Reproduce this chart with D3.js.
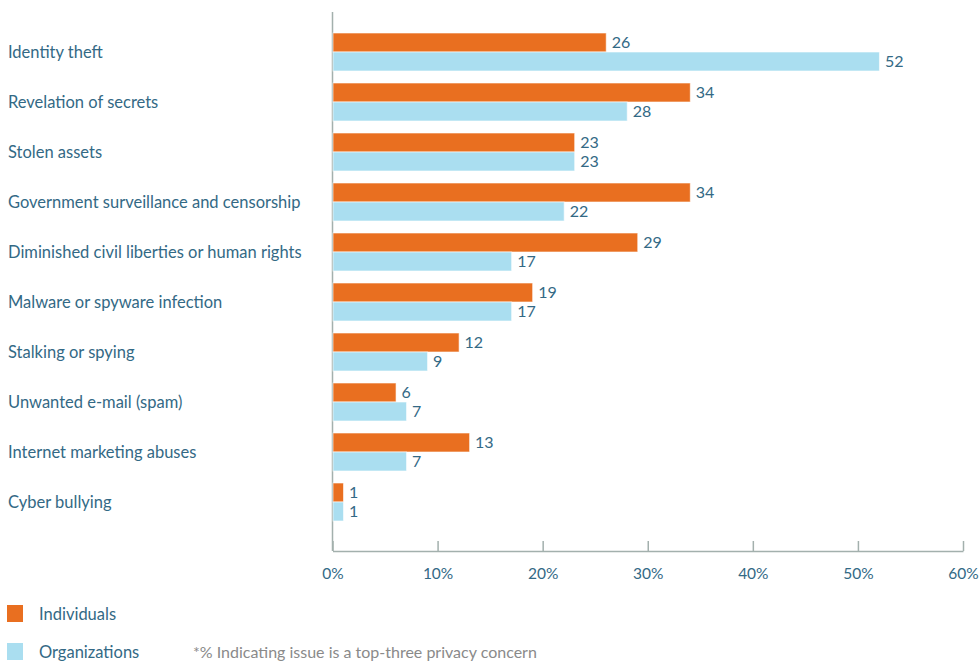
<!DOCTYPE html>
<html>
<head>
<meta charset="utf-8">
<style>
    body { margin: 0; background: #fff; }
    svg { font-family: Lato, 'Open Sans', sans-serif; }
    .cat { font-size: 16.5px; fill: #336985; }
    .val { font-size: 16px; fill: #336985; }
    .x .tick text { font-family: Lato, sans-serif; font-size: 15.5px; fill: #336985; }
    .x .tick line, .x .domain { stroke: #a3b0ad; stroke-width: 1.5; }
    .legend { font-size: 16.5px; fill: #336985; }
    .note { font-size: 16px; fill: #8a8a8a; }
</style>
</head>
<body>
<svg width="979" height="662"></svg>
<script src="https://d3js.org/d3.v7.min.js"></script>
<script>
    let categories = [
        "Identity theft",
        "Revelation of secrets",
        "Stolen assets",
        "Government surveillance and censorship",
        "Diminished civil liberties or human rights",
        "Malware or spyware infection",
        "Stalking or spying",
        "Unwanted e-mail (spam)",
        "Internet marketing abuses",
        "Cyber bullying"
    ]
    let seriesNames = ["Individuals", "Organizations"]
    let individuals = [26, 34, 23, 34, 29, 19, 12, 6, 13, 1]
    let organizations = [52, 28, 23, 22, 17, 17, 9, 7, 7, 1]
    let xTicks = [0, 10, 20, 30, 40, 50, 60]
    let colors = ["#e96f20", "#aadef0"]

    let svg = d3.select("svg")

    let data = categories.map((c, i) => ({
        cat: c,
        values: [
            { key: seriesNames[0], v: individuals[i] },
            { key: seriesNames[1], v: organizations[i] }
        ]
    }))

    let x = d3.scaleLinear().domain([0, 60]).range([332.5, 963])
    let y0 = d3.scaleBand().domain(categories).range([27, 527])
        .paddingInner(0.24).paddingOuter(0.12)
    let y1 = d3.scaleBand().domain(seriesNames).range([0, y0.bandwidth()])
    let color = d3.scaleOrdinal().domain(seriesNames).range(colors)

    // x axis, ticks pointing up
    svg.append("g")
        .attr("class", "x axis")
        .attr("transform", "translate(0,551)")
        .call(d3.axisBottom(x).tickValues(xTicks)
            .tickSizeInner(-10).tickSizeOuter(0).tickPadding(17)
            .tickFormat(d => d + "%"))

    // y axis line
    svg.append("line")
        .attr("x1", x(0)).attr("x2", x(0))
        .attr("y1", 12).attr("y2", 551)
        .attr("stroke", "#a3b0ad").attr("stroke-width", 1.5)

    svg.append("g")
        .selectAll("text")
        .data(categories)
        .join("text")
        .attr("class", "cat")
        .attr("x", 8)
        .attr("y", d => y0(d) + y0.bandwidth() / 2)
        .attr("dy", "0.35em")
        .text(d => d)

    let groups = svg.append("g")
        .selectAll("g")
        .data(data)
        .join("g")
        .attr("transform", d => `translate(0,${y0(d.cat)})`)

    groups.selectAll("rect")
        .data(d => d.values)
        .join("rect")
        .attr("x", x(0) + 0.5)
        .attr("y", d => y1(d.key))
        .attr("width", d => x(d.v) - x(0))
        .attr("height", y1.bandwidth())
        .attr("fill", d => color(d.key))
        .attr("stroke", "#fff")
        .attr("stroke-opacity", 0.6)
        .attr("stroke-width", 1)

    groups.selectAll("text")
        .data(d => d.values)
        .join("text")
        .attr("class", "val")
        .attr("x", d => x(d.v) + 6)
        .attr("y", d => y1(d.key) + y1.bandwidth() / 2)
        .attr("dy", "0.35em")
        .text(d => d.v)

    // legend
    let legend = svg.append("g")
        .selectAll("g")
        .data(seriesNames)
        .join("g")
        .attr("transform", (d, i) => `translate(7,${605 + i * 38})`)

    legend.append("rect")
        .attr("width", 16).attr("height", 17)
        .attr("fill", d => color(d))

    legend.append("text")
        .attr("class", "legend")
        .attr("x", 32).attr("y", 9)
        .attr("dy", "0.35em")
        .text(d => d)

    svg.append("text")
        .attr("class", "note")
        .attr("x", 193).attr("y", 652)
        .attr("dy", "0.35em")
        .text("*% Indicating issue is a top-three privacy concern")
</script>
</body>
</html>
